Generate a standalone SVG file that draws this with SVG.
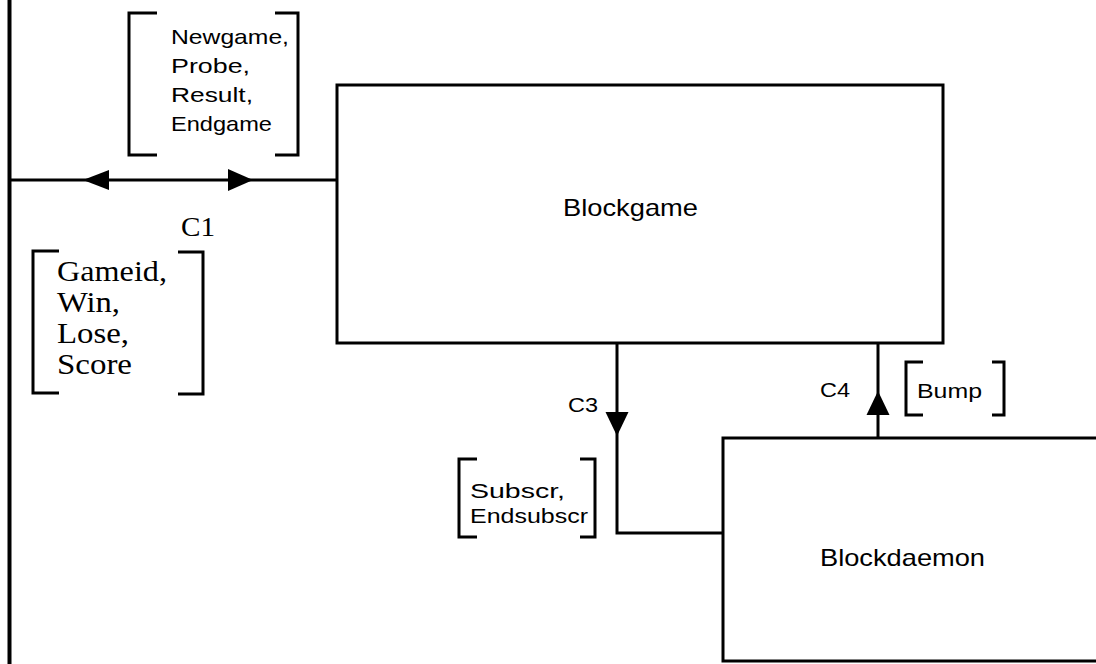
<svg xmlns="http://www.w3.org/2000/svg" width="1096" height="664" viewBox="0 0 1096 664">
<style>
.box{fill:#fff;stroke:#000;stroke-width:3}
.ln{fill:none;stroke:#000;stroke-width:3}
.br{fill:none;stroke:#000;stroke-width:3}
.ah{fill:#000;stroke:none}
.s{font-family:"Liberation Sans",Arial,sans-serif;fill:#000}
.r{font-family:"Liberation Serif","Times New Roman",serif;fill:#000}
</style>
<rect width="1096" height="664" fill="#fff"/>
<g id="boundary">
<line x1="9.5" y1="0" x2="9.5" y2="664" stroke="#000" stroke-width="4"/>
</g>
<g id="connectors">
<line class="ln" x1="9" y1="180" x2="340" y2="180"/>
<polygon class="ah" points="83,180 109,170 109,190"/>
<polygon class="ah" points="253,180 228,169 228,191"/>
<polyline class="ln" points="617,343 617,533 723,533"/>
<polygon class="ah" points="617,436 605.5,412 628.5,412"/>
<line class="ln" x1="878" y1="438" x2="878" y2="343"/>
<polygon class="ah" points="878,391 866.5,415 889.5,415"/>
</g>
<g id="blockgame">
<rect class="box" x="337" y="85" width="606" height="258"/>
<text class="s" x="563" y="216" font-size="24" textLength="135" lengthAdjust="spacingAndGlyphs">Blockgame</text>
</g>
<g id="blockdaemon">
<rect class="box" x="723" y="438" width="400" height="223"/>
<text class="s" x="820" y="566" font-size="24" textLength="165" lengthAdjust="spacingAndGlyphs">Blockdaemon</text>
</g>
<g id="label-c1-out">
<polyline class="br" points="157,13 129,13 129,155 157,155"/>
<polyline class="br" points="275,13 298,13 298,155 275,155"/>
<text class="s" x="171" y="44" font-size="21" textLength="118" lengthAdjust="spacingAndGlyphs">Newgame,</text>
<text class="s" x="171" y="73" font-size="21" textLength="79" lengthAdjust="spacingAndGlyphs">Probe,</text>
<text class="s" x="171" y="102" font-size="21" textLength="82" lengthAdjust="spacingAndGlyphs">Result,</text>
<text class="s" x="171" y="131" font-size="21" textLength="101" lengthAdjust="spacingAndGlyphs">Endgame</text>
</g>
<g id="label-c1">
<text class="r" x="181" y="236" font-size="27" textLength="34" lengthAdjust="spacingAndGlyphs">C1</text>
</g>
<g id="label-c1-in">
<polyline class="br" points="59,251 33,251 33,393 59,393"/>
<polyline class="br" points="178,252 203,252 203,394 178,394"/>
<text class="r" x="57" y="281" font-size="30" textLength="110" lengthAdjust="spacingAndGlyphs">Gameid,</text>
<text class="r" x="57" y="312" font-size="30" textLength="63" lengthAdjust="spacingAndGlyphs">Win,</text>
<text class="r" x="57" y="343" font-size="30" textLength="72" lengthAdjust="spacingAndGlyphs">Lose,</text>
<text class="r" x="57" y="374" font-size="30" textLength="75" lengthAdjust="spacingAndGlyphs">Score</text>
</g>
<g id="label-c3">
<text class="s" x="568" y="412" font-size="20" textLength="30" lengthAdjust="spacingAndGlyphs">C3</text>
<polyline class="br" points="477,459 459,459 459,537 477,537"/>
<polyline class="br" points="580,459 595,459 595,537 580,537"/>
<text class="s" x="470" y="498" font-size="21" textLength="95" lengthAdjust="spacingAndGlyphs">Subscr,</text>
<text class="s" x="470" y="523" font-size="21" textLength="118" lengthAdjust="spacingAndGlyphs">Endsubscr</text>
</g>
<g id="label-c4">
<text class="s" x="820" y="397" font-size="20" textLength="30" lengthAdjust="spacingAndGlyphs">C4</text>
<polyline class="br" points="923,362 906,362 906,415 923,415"/>
<polyline class="br" points="992,362 1004,362 1004,415 992,415"/>
<text class="s" x="917" y="398" font-size="21" textLength="65" lengthAdjust="spacingAndGlyphs">Bump</text>
</g>
</svg>
